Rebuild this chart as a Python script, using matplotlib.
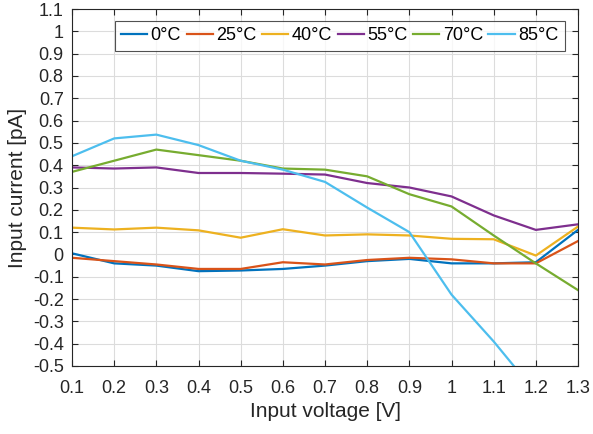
import matplotlib
matplotlib.use("Agg")
import matplotlib.pyplot as plt
import numpy as np

plt.rcParams["font.family"] = ["Liberation Sans", "DejaVu Sans"]

# Input voltage [V]
voltage = [0.1, 0.2, 0.3, 0.4, 0.5, 0.6, 0.7, 0.8, 0.9, 1.0, 1.1, 1.2, 1.3]

# Input current [pA] per temperature
cur_0 = [0.005, -0.04, -0.05, -0.075, -0.072, -0.065, -0.05, -0.03, -0.02, -0.04, -0.04, -0.035, 0.11]
cur_25 = [-0.015, -0.03, -0.045, -0.065, -0.065, -0.035, -0.045, -0.025, -0.015, -0.022, -0.04, -0.04, 0.06]
cur_40 = [0.12, 0.112, 0.12, 0.108, 0.075, 0.113, 0.085, 0.09, 0.085, 0.07, 0.068, -0.005, 0.125]
cur_55 = [0.39, 0.385, 0.39, 0.365, 0.365, 0.362, 0.358, 0.32, 0.30, 0.26, 0.175, 0.11, 0.135]
cur_70 = [0.37, 0.42, 0.47, 0.445, 0.42, 0.385, 0.38, 0.35, 0.27, 0.215, 0.085, -0.04, -0.16]
cur_85 = [0.44, 0.52, 0.537, 0.49, 0.42, 0.38, 0.325, 0.21, 0.10, -0.18, -0.39, -0.62, -0.85]

labels = ["0°C", "25°C", "40°C", "55°C", "70°C", "85°C"]
colors = ["#0072BD", "#D95319", "#EDB120", "#7E2F8E", "#77AC30", "#4DBEEE"]

fig = plt.figure(figsize=(5.93, 4.34), dpi=100)
ax = fig.add_axes([72 / 593, 1 - 366 / 434, (578 - 72) / 593, (366 - 9) / 434])

for series, lab, col in zip([cur_0, cur_25, cur_40, cur_55, cur_70, cur_85], labels, colors):
    ax.plot(voltage, series, color=col, lw=1.6, label=lab)

ax.set_xlim(0.1, 1.3)
ax.set_ylim(-0.5, 1.1)
ax.set_xticks(np.round(np.arange(0.1, 1.31, 0.1), 1))
ax.set_xticklabels(["0.1", "0.2", "0.3", "0.4", "0.5", "0.6", "0.7", "0.8", "0.9", "1", "1.1", "1.2", "1.3"])
yt = np.round(np.arange(-0.5, 1.11, 0.1), 1)
ax.set_yticks(yt)
ax.set_yticklabels([("%g" % v) if v != 0 else "0" for v in yt])

ax.grid(True, color="#dcdcdc", lw=0.8)
ax.set_axisbelow(True)
ax.tick_params(direction="in", labelsize=13, colors="#262626", length=4, top=True, right=True)
ax.tick_params(axis="x", pad=10)
ax.tick_params(axis="y", pad=6)
for s in ax.spines.values():
    s.set_color("#262626")
    s.set_linewidth(0.8)

ax.set_xlabel("Input voltage [V]", fontsize=15, color="#262626", labelpad=4)
ax.set_ylabel("Input current [pA]", fontsize=15, color="#262626", labelpad=4)

leg = ax.legend(ncol=6, loc="upper right", bbox_to_anchor=(0.974, 0.966), fontsize=13,
                frameon=True, fancybox=False, edgecolor="#262626", handlelength=1.45,
                handletextpad=0.2, columnspacing=0.3, borderpad=0.35, borderaxespad=0)
leg.get_frame().set_linewidth(0.8)

fig.savefig("out.png", dpi=100)
